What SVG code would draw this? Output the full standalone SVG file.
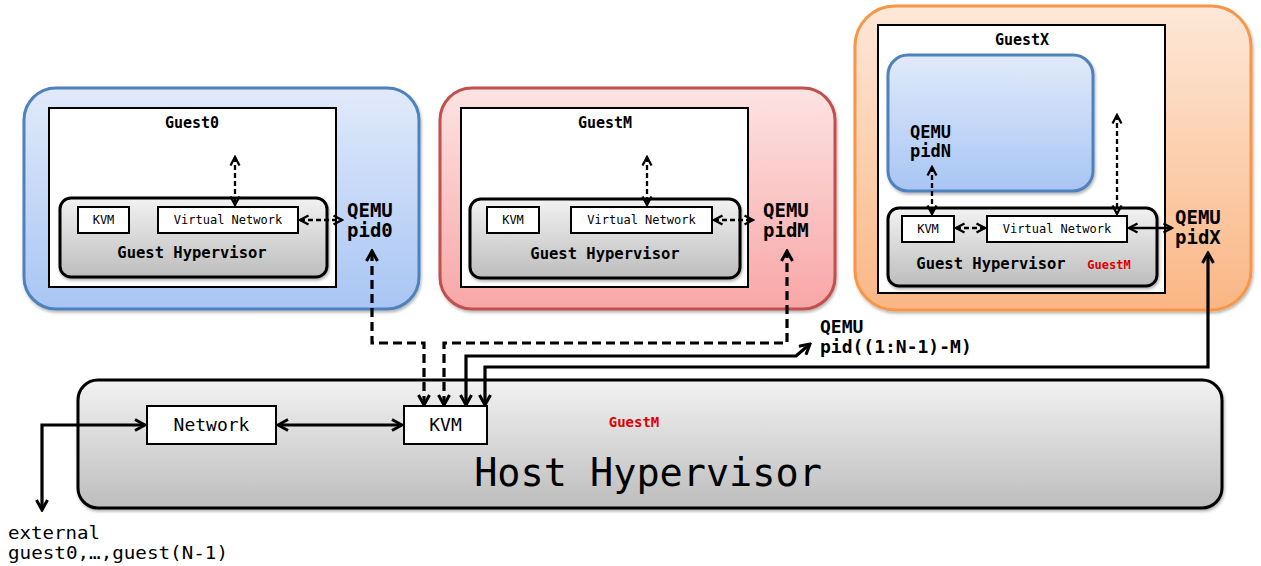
<svg xmlns="http://www.w3.org/2000/svg" width="1261" height="566" viewBox="0 0 1261 566">
<defs>
<linearGradient id="gBlue" x1="0" y1="0" x2="0" y2="1"><stop offset="0" stop-color="#e1eafa"/><stop offset="1" stop-color="#a8c5f4"/></linearGradient>
<linearGradient id="gRed" x1="0" y1="0" x2="0" y2="1"><stop offset="0" stop-color="#fde3e3"/><stop offset="1" stop-color="#f8a6a6"/></linearGradient>
<linearGradient id="gOrange" x1="0" y1="0" x2="0" y2="1"><stop offset="0" stop-color="#fde8d8"/><stop offset="1" stop-color="#fab684"/></linearGradient>
<linearGradient id="gGray" x1="0" y1="0" x2="0" y2="1"><stop offset="0" stop-color="#f2f2f2"/><stop offset="1" stop-color="#bdbdbd"/></linearGradient>
<filter id="sh" x="-5%" y="-5%" width="110%" height="115%"><feDropShadow dx="1" dy="2" stdDeviation="1.5" flood-color="#000" flood-opacity="0.3"/></filter>
<marker id="ah" viewBox="0 0 14 14" refX="12" refY="7" markerWidth="14" markerHeight="14" markerUnits="userSpaceOnUse" orient="auto-start-reverse"><path d="M2,1.5 L12,7 L2,12.5" fill="none" stroke="#000" stroke-width="3"/></marker>
<marker id="as" viewBox="0 0 12 12" refX="10" refY="6" markerWidth="12" markerHeight="12" markerUnits="userSpaceOnUse" orient="auto-start-reverse"><path d="M1.5,1.5 L10,6 L1.5,10.5" fill="none" stroke="#000" stroke-width="2.3"/></marker>
</defs>
<style>
.t{font-family:"DejaVu Sans Mono","Liberation Mono",monospace;fill:#000}
.b{font-weight:bold}
.box{fill:#fff;stroke:#000;stroke-width:2}
.hyp{fill:url(#gGray);stroke:#000;stroke-width:3}
.inner{fill:#fff;stroke:#000;stroke-width:2}
.red{fill:#e00000;font-weight:bold}
.thick{fill:none;stroke:#000;stroke-width:3.2;marker-start:url(#ah);marker-end:url(#ah)}
.dthick{fill:none;stroke:#000;stroke-width:3.2;stroke-dasharray:9,5;marker-start:url(#ah);marker-end:url(#ah)}
.dthin{fill:none;stroke:#000;stroke-width:2.3;stroke-dasharray:5,3;marker-start:url(#as);marker-end:url(#as)}
.thin{fill:none;stroke:#000;stroke-width:2.3;marker-start:url(#as);marker-end:url(#as)}
</style>

<g id="guest0">
<rect x="24" y="88" width="395" height="221" rx="32" fill="url(#gBlue)" stroke="#4f81bd" stroke-width="3" filter="url(#sh)"/>
<rect x="49" y="108" width="287" height="179" class="inner"/>
<text x="192" y="128" class="t b" font-size="15" text-anchor="middle">Guest0</text>
<rect x="60" y="198" width="267" height="79" rx="11" class="hyp" filter="url(#sh)"/>
<rect x="78" y="207" width="51" height="26" class="box"/>
<text x="103.5" y="224" class="t" font-size="12" text-anchor="middle">KVM</text>
<rect x="158" y="207" width="140" height="26" class="box"/>
<text x="228" y="224" class="t" font-size="12" text-anchor="middle">Virtual Network</text>
<text x="192" y="258" class="t b" font-size="15.5" text-anchor="middle">Guest Hypervisor</text>
<text x="347" y="217" class="t b" font-size="19">QEMU</text>
<text x="347" y="237" class="t b" font-size="19">pid0</text>
</g>

<g id="guestM">
<rect x="440" y="88" width="395" height="221" rx="32" fill="url(#gRed)" stroke="#c0504d" stroke-width="3" filter="url(#sh)"/>
<rect x="461" y="108" width="287" height="179" class="inner"/>
<text x="605" y="128" class="t b" font-size="15" text-anchor="middle">GuestM</text>
<rect x="470" y="199" width="270" height="79" rx="11" class="hyp" filter="url(#sh)"/>
<rect x="487" y="207" width="52" height="26" class="box"/>
<text x="513" y="224" class="t" font-size="12" text-anchor="middle">KVM</text>
<rect x="571" y="207" width="141" height="26" class="box"/>
<text x="641.5" y="224" class="t" font-size="12" text-anchor="middle">Virtual Network</text>
<text x="605" y="259" class="t b" font-size="15.5" text-anchor="middle">Guest Hypervisor</text>
<text x="763" y="217" class="t b" font-size="19">QEMU</text>
<text x="763" y="237" class="t b" font-size="19">pidM</text>
</g>

<g id="guestX">
<rect x="855" y="6" width="396" height="304" rx="40" fill="url(#gOrange)" stroke="#f79646" stroke-width="3" filter="url(#sh)"/>
<rect x="878" y="25" width="287" height="268" class="inner"/>
<text x="1022" y="45" class="t b" font-size="15" text-anchor="middle">GuestX</text>
<rect x="888" y="55" width="205" height="136" rx="20" fill="url(#gBlue)" stroke="#4f81bd" stroke-width="3" filter="url(#sh)"/>
<text x="910" y="138" class="t b" font-size="17">QEMU</text>
<text x="910" y="157" class="t b" font-size="17">pidN</text>
<rect x="888" y="208" width="269" height="78" rx="11" class="hyp" filter="url(#sh)"/>
<rect x="902" y="216" width="52" height="26" class="box"/>
<text x="928" y="233" class="t" font-size="12" text-anchor="middle">KVM</text>
<rect x="987" y="216" width="140" height="26" class="box"/>
<text x="1057" y="233" class="t" font-size="12" text-anchor="middle">Virtual Network</text>
<text x="991" y="269" class="t b" font-size="15.5" text-anchor="middle">Guest Hypervisor</text>
<text x="1109" y="269" class="t red" font-size="12" text-anchor="middle">GuestM</text>
<text x="1175" y="224" class="t b" font-size="19">QEMU</text>
<text x="1175" y="244" class="t b" font-size="19">pidX</text>
</g>

<g id="host">
<rect x="78" y="380" width="1144" height="128" rx="20" class="hyp" filter="url(#sh)"/>
<rect x="147" y="406" width="129" height="38" class="box"/>
<text x="211.5" y="431" class="t" font-size="18" text-anchor="middle">Network</text>
<rect x="404" y="406" width="83" height="38" class="box"/>
<text x="445.5" y="431" class="t" font-size="18" text-anchor="middle">KVM</text>
<text x="634" y="427" class="t red" font-size="14" text-anchor="middle">GuestM</text>
<text x="648" y="486" class="t" font-size="38.5" text-anchor="middle">Host Hypervisor</text>
</g>

<g id="labels">
<text x="820" y="333" class="t b" font-size="18">QEMU</text>
<text x="820" y="353" class="t b" font-size="18">pid((1:N-1)-M)</text>
<text x="8" y="539" class="t" font-size="17.5" textLength="92" lengthAdjust="spacingAndGlyphs">external</text>
<text x="8" y="559" class="t" font-size="17.5" textLength="220" lengthAdjust="spacingAndGlyphs">guest0,…,guest(N-1)</text>
</g>

<g id="connectors">
<path class="dthin" d="M235,157 L235,205"/>
<path class="dthin" d="M300,220 L342,220"/>
<path class="dthin" d="M647,157 L647,205"/>
<path class="dthin" d="M714,220 L753,220"/>
<path class="dthin" d="M932,167 L932,214"/>
<path class="dthin" d="M956,228 L985,228"/>
<path class="dthin" d="M1117,115 L1117,214"/>
<path class="thin" d="M1129,228 L1172,228"/>
<path class="dthick" d="M424,405 L424,343 L372,343 L372,251"/>
<path class="dthick" d="M444,405 L444,343 L787,343 L787,251"/>
<path class="thick" d="M466,405 L466,356 L796,356 L810,344"/>
<path class="thick" d="M485,405 L485,367 L1208,367 L1208,253"/>
<path class="thick" d="M278,425 L402,425"/>
<path class="thick" d="M145,425 L42,425 L42,510"/>
</g>
</svg>
